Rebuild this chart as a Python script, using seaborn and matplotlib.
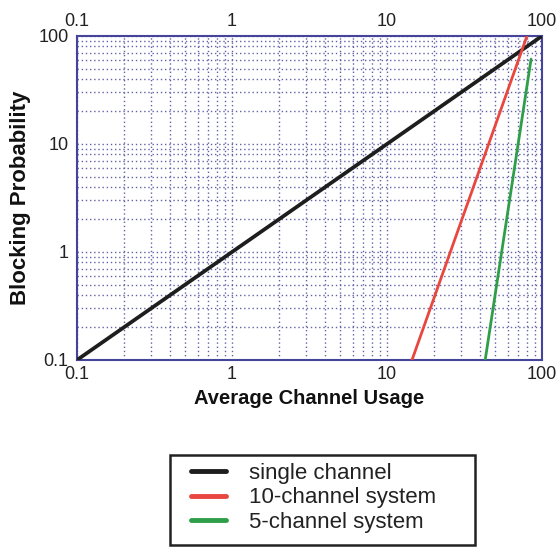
import matplotlib
matplotlib.use("Agg")
import matplotlib.pyplot as plt
import seaborn as sns
import pandas as pd
from matplotlib.patches import Rectangle
from matplotlib.ticker import FixedLocator, NullFormatter, LogLocator

sns.set_theme(style="white")
plt.rcParams['font.family'] = ['Liberation Sans', 'DejaVu Sans']

# data (endpoints of straight lines on log-log axes)
series_names = ["single channel", "10-channel system", "5-channel system"]
single_x = [0.1, 100]
single_y = [0.1, 100]
ten_x = [14.5, 80]
ten_y = [0.1, 100]
five_x = [43, 85]
five_y = [0.1, 61]
tick_vals = [0.1, 1, 10, 100]
tick_labels = ["0.1", "1", "10", "100"]
colors = ["#1e1e1e", "#e8473f", "#2e9e48"]
widths = [2.7, 2.0, 2.0]

df = pd.concat([
    pd.DataFrame({"x": single_x, "y": single_y, "series": series_names[0]}),
    pd.DataFrame({"x": ten_x, "y": ten_y, "series": series_names[1]}),
    pd.DataFrame({"x": five_x, "y": five_y, "series": series_names[2]}),
])

W, H = 559, 549
fig = plt.figure(figsize=(W/100, H/100), dpi=100)
ax = fig.add_axes([77/W, 1-360/H, 465/W, 324/H])
ax.set_xscale("log")
ax.set_yscale("log")

sns.lineplot(data=df, x="x", y="y", hue="series", palette=colors,
             hue_order=series_names, ax=ax, linewidth=2.0, legend=False, sort=False)
for ln, w in zip(ax.lines, widths):
    ln.set_linewidth(w)
    ln.set_zorder(3)

ax.set_xlim(0.1, 100)
ax.set_ylim(0.1, 100)

gridc = "#6262a8"
ax.xaxis.set_major_locator(FixedLocator(tick_vals))
ax.yaxis.set_major_locator(FixedLocator(tick_vals))
ax.set_xticklabels(tick_labels)
ax.set_yticklabels(tick_labels)
ax.xaxis.set_minor_locator(LogLocator(base=10, subs=range(2, 10)))
ax.yaxis.set_minor_locator(LogLocator(base=10, subs=range(2, 10)))
ax.xaxis.set_minor_formatter(NullFormatter())
ax.yaxis.set_minor_formatter(NullFormatter())
ax.grid(True, which="both", linestyle=(0, (1, 2)), color=gridc, linewidth=1.0)
ax.tick_params(axis="x", which="both", top=True, labeltop=True, bottom=True,
               labelbottom=True, length=0, labelsize=13, colors="#222222", pad=4)
ax.tick_params(axis="y", which="both", length=0, labelsize=13, colors="#222222", pad=6)
for s in ax.spines.values():
    s.set_color("#44449a")
    s.set_linewidth(1.5)
    s.set_visible(True)

ax.set_xlabel("Average Channel Usage", fontsize=14.5, fontweight="bold", labelpad=5,
              color="#111111")
ax.set_ylabel("Blocking Probability", fontsize=16, fontweight="bold", labelpad=5,
              color="#111111")

# legend frame drawn as a figure rectangle
fig.patches.append(Rectangle((170/W, 1-545/H), 305/W, 90/H, transform=fig.transFigure,
                             facecolor="white", edgecolor="#222222", linewidth=1.8,
                             zorder=1))
handles = [plt.Line2D([], [], color=c, linewidth=3.5) for c in colors]
leg = fig.legend(handles, series_names, loc="upper left",
                 bbox_to_anchor=(183/W, 1-455/H),
                 frameon=False, fontsize=16,
                 handlelength=1.6, handletextpad=1.0, borderpad=0.35,
                 labelspacing=0.16, borderaxespad=0)
leg.set_zorder(2)
for t in leg.get_texts():
    t.set_color("#222222")

fig.savefig("out.png", dpi=100, facecolor="white")
